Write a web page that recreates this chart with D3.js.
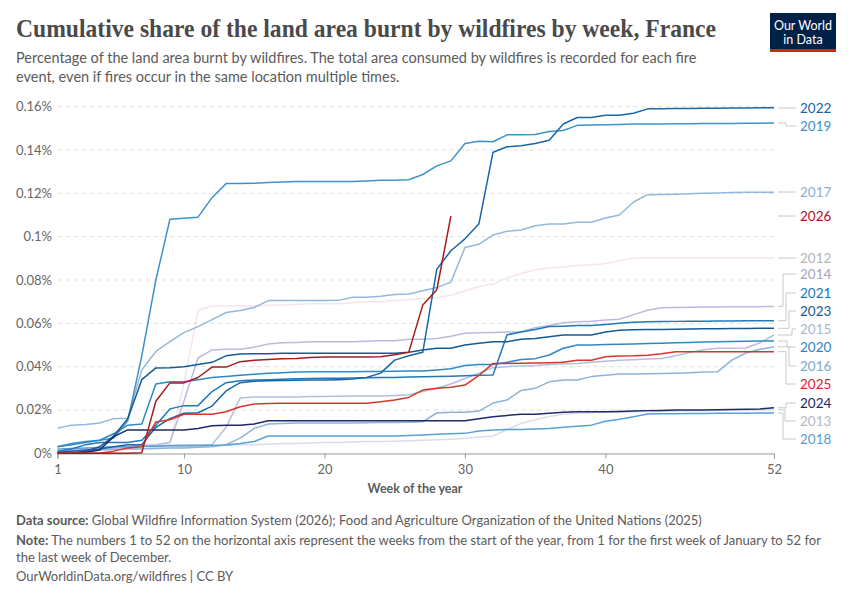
<!DOCTYPE html>
<html>
<head>
<meta charset="utf-8">
<script src="https://cdn.jsdelivr.net/npm/d3@7"></script>
<style>
  body { margin: 0; background: #fff; }
  text { font-family: Lato, "Noto Sans", sans-serif; }
</style>
</head>
<body>
<script>
// Chart size
var w = 850;
var h = 600;

// Weeks of the year (x categories)
var weeks = d3.range(1, 53);

// Years shown, with their colours
var years = ["2012", "2013", "2014", "2015", "2016", "2017", "2018", "2019",
             "2020", "2021", "2022", "2023", "2024", "2025", "2026"];
var lineColors = ["#f5e4ec", "#dcdcec", "#b9bcdc", "#b1c1dc", "#8db3da", "#92b9dd", "#5ba0d3", "#3d93c8",
                  "#2f88c3", "#2079b8", "#1967a7", "#165a92", "#1d2b68", "#d8362c", "#a61c1c"];
var labelColors = ["#b4b4b4", "#b8b8c4", "#a2a5c0", "#a7b6d0", "#7ea6cc", "#8aaed3", "#5b9bd0", "#3d8fc6",
                   "#2b83c0", "#1b76b6", "#1565a6", "#155a92", "#1a2a66", "#d6262b", "#a3181a"];

// Cumulative share of land area burnt (%), one value per week
var y2012 = [0.0005, 0.001, 0.0015, 0.002, 0.0025, 0.003, 0.0035, 0.004, 0.005, 0.032, 0.066, 0.068, 0.068,
             0.068, 0.068, 0.0683, 0.0685, 0.0687, 0.069, 0.069, 0.069, 0.0695, 0.07, 0.07, 0.0705, 0.071,
             0.0715, 0.0717, 0.073, 0.075, 0.077, 0.078, 0.081, 0.083, 0.0846, 0.0855, 0.086, 0.0867, 0.087,
             0.0875, 0.089, 0.09, 0.0902, 0.0902, 0.0902, 0.0902, 0.0902, 0.0902, 0.0902, 0.0902, 0.0902, 0.0902];
var y2013 = [0.001, 0.0012, 0.0015, 0.0018, 0.002, 0.0022, 0.0025, 0.0027, 0.003, 0.003, 0.0032, 0.0035, 0.0037,
             0.004, 0.004, 0.0042, 0.0045, 0.0045, 0.0047, 0.005, 0.005, 0.0052, 0.0054, 0.0055, 0.0056, 0.0058,
             0.006, 0.0062, 0.0065, 0.007, 0.0075, 0.008, 0.011, 0.0138, 0.0155, 0.017, 0.018, 0.0185, 0.0187,
             0.019, 0.019, 0.0192, 0.0193, 0.0194, 0.0195, 0.0196, 0.0197, 0.0198, 0.0199, 0.02, 0.02, 0.0201];
var y2014 = [0.0005, 0.001, 0.0015, 0.002, 0.0025, 0.003, 0.0035, 0.004, 0.005, 0.024, 0.044, 0.0477, 0.048,
             0.048, 0.049, 0.0505, 0.051, 0.0512, 0.0515, 0.0515, 0.0515, 0.0515, 0.0517, 0.052, 0.052, 0.0526,
             0.0527, 0.053, 0.054, 0.0554, 0.0556, 0.0558, 0.056, 0.0561, 0.058, 0.059, 0.0603, 0.0607, 0.061,
             0.0615, 0.0619, 0.064, 0.066, 0.0672, 0.0673, 0.0674, 0.0675, 0.0675, 0.0676, 0.0676, 0.0677, 0.0678];
var y2015 = [0.001, 0.0015, 0.002, 0.002, 0.0025, 0.003, 0.0032, 0.0035, 0.0037, 0.0038, 0.0038, 0.004, 0.012,
             0.0255, 0.026, 0.026, 0.026, 0.026, 0.0262, 0.0262, 0.0263, 0.0264, 0.0265, 0.0265, 0.0267, 0.027,
             0.0285, 0.03, 0.032, 0.0345, 0.037, 0.0395, 0.04, 0.0403, 0.0405, 0.041, 0.0413, 0.0415, 0.042,
             0.0425, 0.043, 0.0432, 0.0435, 0.0438, 0.045, 0.0465, 0.0478, 0.0485, 0.0485, 0.0486, 0.051, 0.0546];
var y2016 = [0.0005, 0.001, 0.0012, 0.0015, 0.0018, 0.002, 0.002, 0.0022, 0.0025, 0.0025, 0.0028, 0.003, 0.004,
             0.007, 0.0115, 0.0135, 0.0138, 0.014, 0.014, 0.014, 0.014, 0.014, 0.0141, 0.0142, 0.0142, 0.0143,
             0.0146, 0.0186, 0.019, 0.019, 0.0195, 0.0232, 0.0246, 0.029, 0.03, 0.033, 0.0338, 0.0338, 0.0354,
             0.036, 0.0366, 0.0366, 0.0367, 0.0368, 0.037, 0.0372, 0.0375, 0.0377, 0.043, 0.0463, 0.048, 0.0492];
var y2017 = [0.0116, 0.013, 0.0133, 0.014, 0.016, 0.0162, 0.0385, 0.047, 0.0515, 0.0557, 0.0585, 0.0617, 0.065,
             0.0659, 0.0673, 0.0705, 0.0705, 0.0705, 0.0705, 0.0705, 0.0706, 0.072, 0.072, 0.0725, 0.0733, 0.0735,
             0.075, 0.0765, 0.079, 0.095, 0.0965, 0.1008, 0.1025, 0.1031, 0.105, 0.1058, 0.1058, 0.1067, 0.1067,
             0.1086, 0.11, 0.116, 0.1194, 0.1195, 0.1196, 0.1198, 0.12, 0.1202, 0.1204, 0.1205, 0.1205, 0.1205];
var y2018 = [0.002, 0.0022, 0.0025, 0.0027, 0.003, 0.003, 0.0032, 0.0033, 0.0035, 0.0035, 0.0036, 0.0037, 0.0038,
             0.0045, 0.0054, 0.008, 0.008, 0.008, 0.008, 0.008, 0.008, 0.008, 0.008, 0.008, 0.008, 0.0082,
             0.0085, 0.0088, 0.009, 0.0092, 0.0103, 0.0108, 0.011, 0.011, 0.0112, 0.0115, 0.012, 0.0125, 0.013,
             0.0148, 0.0157, 0.0169, 0.0181, 0.0182, 0.0183, 0.0184, 0.0184, 0.0185, 0.0185, 0.0185, 0.0186, 0.0186];
var y2019 = [0.003, 0.0045, 0.0055, 0.006, 0.007, 0.015, 0.045, 0.08, 0.108, 0.1085, 0.109, 0.118, 0.1245,
             0.1245, 0.1247, 0.125, 0.1252, 0.1255, 0.1255, 0.1255, 0.1255, 0.1255, 0.1257, 0.126, 0.126, 0.1263,
             0.1287, 0.1327, 0.135, 0.143, 0.144, 0.1438, 0.147, 0.147, 0.1472, 0.1486, 0.149, 0.1514, 0.1515,
             0.1517, 0.1518, 0.152, 0.152, 0.152, 0.1521, 0.1521, 0.1522, 0.1522, 0.1523, 0.1524, 0.1524, 0.1525];
var y2020 = [0.003, 0.004, 0.005, 0.006, 0.009, 0.013, 0.0135, 0.032, 0.033, 0.033, 0.034, 0.035, 0.0355,
             0.036, 0.0365, 0.037, 0.0372, 0.0375, 0.0377, 0.0377, 0.0377, 0.0377, 0.0378, 0.0378, 0.0379, 0.038,
             0.038, 0.0385, 0.039, 0.0405, 0.041, 0.041, 0.042, 0.0433, 0.0437, 0.0454, 0.0485, 0.05, 0.05,
             0.0502, 0.0503, 0.0505, 0.0507, 0.0508, 0.051, 0.0512, 0.0514, 0.0515, 0.0516, 0.0517, 0.0518, 0.0518];
var y2021 = [0.001, 0.002, 0.004, 0.005, 0.005, 0.005, 0.006, 0.013, 0.0205, 0.022, 0.022, 0.0285, 0.0326,
             0.0335, 0.0338, 0.034, 0.0342, 0.0344, 0.0345, 0.0346, 0.0347, 0.0348, 0.0349, 0.035, 0.035, 0.0352,
             0.0353, 0.0355, 0.0356, 0.0358, 0.036, 0.0362, 0.0547, 0.056, 0.0572, 0.0585, 0.0587, 0.059, 0.059,
             0.0595, 0.06, 0.0605, 0.0607, 0.0608, 0.0609, 0.061, 0.061, 0.0611, 0.0611, 0.0612, 0.0612, 0.0612];
var y2022 = [0.0005, 0.001, 0.0015, 0.002, 0.003, 0.004, 0.004, 0.012, 0.016, 0.0185, 0.0187, 0.0218, 0.0288,
             0.0326, 0.0333, 0.0335, 0.0336, 0.0337, 0.0338, 0.0338, 0.034, 0.0343, 0.035, 0.037, 0.043, 0.045,
             0.0466, 0.085, 0.0935, 0.099, 0.106, 0.139, 0.1415, 0.142, 0.143, 0.1445, 0.152, 0.155, 0.155,
             0.156, 0.156, 0.157, 0.159, 0.159, 0.1592, 0.1592, 0.1593, 0.1593, 0.1594, 0.1594, 0.1595, 0.1595];
var y2023 = [0, 0, 0.001, 0.003, 0.008, 0.016, 0.034, 0.0394, 0.0395, 0.04, 0.041, 0.042, 0.045,
             0.0458, 0.046, 0.046, 0.0462, 0.0462, 0.0462, 0.0462, 0.0462, 0.0462, 0.0462, 0.0462, 0.0462, 0.0466,
             0.0477, 0.0485, 0.0485, 0.05, 0.0508, 0.0515, 0.0515, 0.0526, 0.053, 0.0538, 0.0546, 0.0546, 0.0546,
             0.056, 0.0568, 0.057, 0.0572, 0.0572, 0.0573, 0.0574, 0.0575, 0.0575, 0.0576, 0.0576, 0.0577, 0.0577];
var y2024 = [0, 0, 0.0005, 0.0015, 0.0077, 0.0108, 0.0108, 0.0108, 0.0108, 0.0108, 0.0115, 0.0127, 0.013,
             0.013, 0.0135, 0.015, 0.015, 0.015, 0.015, 0.015, 0.015, 0.015, 0.015, 0.015, 0.015, 0.015,
             0.015, 0.015, 0.015, 0.015, 0.016, 0.0169, 0.0175, 0.018, 0.018, 0.0185, 0.019, 0.0192, 0.0192,
             0.0192, 0.0193, 0.0195, 0.0197, 0.0198, 0.02, 0.02, 0.02, 0.0201, 0.0202, 0.0203, 0.0205, 0.021];
var y2025 = [0, 0, 0, 0, 0.001, 0.0025, 0.003, 0.0145, 0.0155, 0.018, 0.018, 0.018, 0.0192,
             0.0215, 0.0228, 0.023, 0.0231, 0.0231, 0.0231, 0.0231, 0.0231, 0.0231, 0.0231, 0.0238, 0.0246, 0.0258,
             0.0292, 0.03, 0.0305, 0.0315, 0.036, 0.0415, 0.0415, 0.0416, 0.0417, 0.0418, 0.042, 0.043, 0.043,
             0.0446, 0.0449, 0.045, 0.0453, 0.046, 0.0469, 0.0469, 0.0469, 0.0469, 0.0469, 0.0469, 0.0469, 0.0469];
var y2026 = [0, 0, 0, 0, 0, 0, 0.0003, 0.024, 0.0325, 0.0325, 0.035, 0.0398, 0.0398,
             0.0423, 0.043, 0.0433, 0.0436, 0.0438, 0.0442, 0.0445, 0.0445, 0.0445, 0.0445, 0.0446, 0.0455, 0.0466,
             0.0685, 0.0755, 0.1095];

var seriesValues = [y2012, y2013, y2014, y2015, y2016, y2017, y2018, y2019,
                    y2020, y2021, y2022, y2023, y2024, y2025, y2026];

// Y axis ticks (%)
var yTicks = [0, 0.02, 0.04, 0.06, 0.08, 0.1, 0.12, 0.14, 0.16];
var xTicks = [1, 10, 20, 30, 40, 52];

// Right-hand label placement (layout, after collision avoidance)
var labelY = {"2022": 108, "2019": 126, "2017": 192, "2026": 216, "2012": 258, "2014": 274, "2021": 293,
              "2023": 311, "2015": 329, "2020": 347, "2016": 366, "2025": 384, "2024": 403, "2013": 421, "2018": 439};
var elbowX = {"2022": 787, "2019": 786, "2014": 783, "2021": 786, "2023": 789, "2015": 792, "2020": 787,
              "2016": 789, "2025": 786, "2024": 786, "2013": 785, "2018": 783};

var xScale = d3.scaleLinear().domain([1, 52]).range([57.5, 774]);
var yScale = d3.scaleLinear().domain([0, 0.16]).range([453.3, 106.7]);

var svg = d3.select("body").append("svg")
    .attr("width", w)
    .attr("height", h);

// Title and subtitle
svg.append("text")
    .attr("x", 16).attr("y", 37)
    .style("font-family", "'Liberation Serif', serif")
    .attr("font-size", 25)
    .attr("font-weight", "bold")
    .attr("fill", "#4a4a4a")
    .attr("textLength", 700)
    .attr("lengthAdjust", "spacingAndGlyphs")
    .text("Cumulative share of the land area burnt by wildfires by week, France");

var subtitle = ["Percentage of the land area burnt by wildfires. The total area consumed by wildfires is recorded for each fire",
                "event, even if fires occur in the same location multiple times."];
svg.selectAll(".subtitle")
    .data(subtitle)
    .enter().append("text")
    .attr("class", "subtitle")
    .attr("x", 16)
    .attr("y", function(d, i) { return 63 + i * 19; })
    .attr("font-size", 14.5)
    .attr("fill", "#5b5b5b")
    .text(function(d) { return d; });

// Logo
var logo = svg.append("g").attr("transform", "translate(770,13)");
logo.append("rect").attr("width", 66).attr("height", 39).attr("fill", "#002147");
logo.append("rect").attr("y", 36).attr("width", 66).attr("height", 3).attr("fill", "#ce261e");
logo.append("text").attr("x", 33).attr("y", 17).attr("text-anchor", "middle")
    .attr("font-size", 12.5).attr("fill", "#fff").text("Our World");
logo.append("text").attr("x", 33).attr("y", 31).attr("text-anchor", "middle")
    .attr("font-size", 12.5).attr("fill", "#fff").text("in Data");

// Gridlines
svg.selectAll(".grid")
    .data(yTicks.slice(1))
    .enter().append("line")
    .attr("x1", 57.5).attr("x2", 774)
    .attr("y1", function(d) { return yScale(d); })
    .attr("y2", function(d) { return yScale(d); })
    .attr("stroke", "#dddddd")
    .attr("stroke-dasharray", "4,4");

// Y tick labels
svg.selectAll(".ylab")
    .data(yTicks)
    .enter().append("text")
    .attr("x", 52)
    .attr("y", function(d) { return yScale(d) + 4.5; })
    .attr("text-anchor", "end")
    .attr("font-size", 13)
    .attr("fill", "#666")
    .text(function(d) { return d === 0 ? "0%" : d3.format("")(+d.toFixed(2)) + "%"; });

// X axis
var xAxis = d3.axisBottom(xScale).tickValues(xTicks).tickSize(5).tickFormat(d3.format("d"));
var gx = svg.append("g").attr("transform", "translate(0," + 453.5 + ")").call(xAxis);
gx.select(".domain").attr("stroke", "#999");
gx.selectAll(".tick line").attr("stroke", "#999");
gx.selectAll(".tick text").attr("font-size", 13).attr("fill", "#666")
    .attr("font-family", "Lato, sans-serif").attr("dy", "0.95em");

svg.append("text")
    .attr("x", 415).attr("y", 493)
    .attr("text-anchor", "middle")
    .attr("font-size", 12.5)
    .attr("font-weight", "bold")
    .attr("fill", "#5b5b5b")
    .text("Week of the year");

// Lines
var line = d3.line()
    .x(function(d, i) { return xScale(weeks[i]); })
    .y(function(d) { return yScale(d); });

svg.selectAll(".series")
    .data(seriesValues)
    .enter().append("path")
    .attr("class", "series")
    .attr("fill", "none")
    .attr("stroke", function(d, i) { return lineColors[i]; })
    .attr("stroke-width", 1.5)
    .attr("stroke-linejoin", "round")
    .attr("d", line);

// Right labels with connectors
years.forEach(function(yr, i) {
    var vals = seriesValues[i];
    var y0 = yScale(vals[vals.length - 1]);
    if (yr === "2026") y0 = labelY[yr];
    var y1 = labelY[yr];
    var ex = elbowX[yr] || 787;
    var pathD = Math.abs(y1 - y0) < 1.5
        ? "M778," + y1 + "H796"
        : "M778," + y0 + "H" + ex + "V" + y1 + "H796";
    svg.append("path")
        .attr("d", pathD)
        .attr("fill", "none")
        .attr("stroke", "#c8c8c8")
        .attr("stroke-width", 1);
    svg.append("text")
        .attr("x", 800)
        .attr("y", y1 + 4.8)
        .attr("font-size", 13.5)
        .attr("fill", labelColors[i])
        .text(yr);
});

// Footer
var foot = svg.append("g").attr("font-size", 13).attr("fill", "#5b5b5b");
var f1 = foot.append("text").attr("x", 16).attr("y", 525);
f1.append("tspan").attr("font-weight", "bold").text("Data source:");
f1.append("tspan").text(" Global Wildfire Information System (2026); Food and Agriculture Organization of the United Nations (2025)");
var f2 = foot.append("text").attr("x", 16).attr("y", 545);
f2.append("tspan").attr("font-weight", "bold").text("Note:");
f2.append("tspan").text(" The numbers 1 to 52 on the horizontal axis represent the weeks from the start of the year, from 1 for the first week of January to 52 for");
foot.append("text").attr("x", 16).attr("y", 562).text("the last week of December.");
foot.append("text").attr("x", 16).attr("y", 581).text("OurWorldinData.org/wildfires | CC BY");
</script>
</body>
</html>
